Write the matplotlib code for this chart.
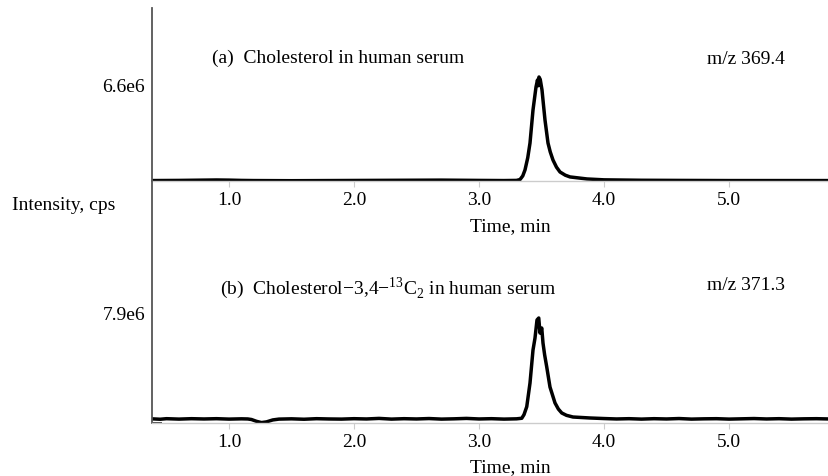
import numpy as np
import matplotlib
matplotlib.use("Agg")
import matplotlib.pyplot as plt
from matplotlib import transforms

plt.rcParams['font.family'] = ['Liberation Serif', 'DejaVu Serif']
plt.rcParams['mathtext.fontset'] = 'custom'
plt.rcParams['mathtext.rm'] = 'Liberation Serif'

# -- (a) cholesterol, m/z 369.4 (intensity in 1e6 cps)
t_a = [0.38, 0.6, 0.8, 0.9, 1.0, 1.1, 1.2, 1.5, 1.8, 2.1, 2.4, 2.7, 3.0, 3.2, 3.3,
       3.328, 3.35, 3.368, 3.39, 3.408, 3.432, 3.456, 3.468, 3.474, 3.48, 3.49, 3.504, 3.515,
       3.528, 3.552, 3.57, 3.592, 3.62, 3.648, 3.69, 3.728, 3.864, 4.0, 4.3, 4.6, 5.0, 5.4, 5.8]
i_a = [0.03, 0.04, 0.06, 0.07, 0.06, 0.04, 0.03, 0.02, 0.03, 0.04, 0.05, 0.06, 0.04, 0.03, 0.04,
       0.10, 0.35, 0.76, 1.60, 2.61, 4.88, 6.46, 6.95, 6.55, 7.15, 6.98, 6.26, 5.30,
       4.19, 2.61, 2.00, 1.44, 0.95, 0.62, 0.40, 0.28, 0.14, 0.08, 0.05, 0.04, 0.03, 0.03, 0.03]

# -- (b) cholesterol-3,4-13C2, m/z 371.3
t_b = [0.38, 0.45, 0.5, 0.6, 0.7, 0.8, 0.9, 1.0, 1.1, 1.15, 1.18, 1.22, 1.26, 1.30, 1.35,
       1.4, 1.5, 1.6, 1.7, 1.8, 1.9, 2.0, 2.1, 2.2, 2.3, 2.4, 2.5, 2.6, 2.7, 2.8, 2.9,
       3.0, 3.1, 3.2, 3.3, 3.342, 3.36, 3.382, 3.408, 3.432, 3.448, 3.464, 3.478, 3.488,
       3.502, 3.512, 3.525, 3.542, 3.568, 3.608, 3.635, 3.662, 3.70, 3.752, 3.888, 4.0, 4.1,
       4.2, 4.3, 4.4, 4.5, 4.6, 4.7, 4.8, 4.9, 5.0, 5.1, 5.2, 5.3, 5.4, 5.5, 5.6, 5.7, 5.8]
i_b = [0.30, 0.27, 0.31, 0.28, 0.31, 0.29, 0.31, 0.28, 0.30, 0.29, 0.25, 0.12, 0.03, 0.08, 0.22,
       0.28, 0.30, 0.27, 0.31, 0.29, 0.28, 0.31, 0.29, 0.33, 0.28, 0.31, 0.29, 0.32, 0.28, 0.30, 0.33,
       0.29, 0.31, 0.28, 0.30, 0.34, 0.60, 1.17, 2.87, 5.24, 6.10, 7.40, 7.54, 6.46,
       6.82, 5.74, 4.90, 4.02, 2.58, 1.44, 1.00, 0.72, 0.55, 0.43, 0.36, 0.32, 0.29,
       0.31, 0.28, 0.31, 0.29, 0.32, 0.28, 0.30, 0.31, 0.28, 0.30, 0.32, 0.29, 0.31, 0.28, 0.30, 0.31, 0.29]

xticks = [1.0, 2.0, 3.0, 4.0, 5.0]
ytick_a = 6.6
ytick_b = 7.9
title_a = "(a)  Cholesterol in human serum"
title_b = "(b)  Cholesterol\u22123,4\u2212$^{13}$C$_2$ in human serum"
mz_a = "m/z 369.4"
mz_b = "m/z 371.3"

FS = 14
W, H = 829, 476
left = 152 / W


def panel(ax, t, y, ytick, ymax, title, tx, ty, mz, mzy, label_y):
    ax.patch.set_visible(False)
    ax.plot(np.array(t), np.array(y) * 1e6, color='black', lw=2.5, solid_joinstyle='round')
    ax.set_xlim(0.384, 5.8)
    ax.set_ylim(0, ymax * 1e6)
    ax.set_xticks(xticks)
    ax.set_xticklabels([f"{v:.1f}" for v in xticks], fontsize=FS)
    ax.set_yticks([ytick * 1e6])
    ax.set_yticklabels([f"{ytick:.1f}e6"], fontsize=FS)
    ax.tick_params(axis='x', length=4, color='#cccccc', pad=4)
    ax.tick_params(axis='y', length=0, pad=5)
    for s in ['top', 'right']:
        ax.spines[s].set_visible(False)
    ax.spines['left'].set_color('#555555')
    ax.spines['left'].set_linewidth(1.3)
    ax.spines['bottom'].set_color('#cccccc')
    ax.spines['bottom'].set_linewidth(1.0)
    ax.set_xlabel("Time, min", fontsize=FS)
    ax.xaxis.set_label_coords(0.529, label_y)
    tr = transforms.blended_transform_factory(ax.transData, ax.transAxes)
    ax.text(tx, ty, title, transform=tr, fontsize=FS, va='center')
    ax.text(4.824, mzy, mz, transform=tr, fontsize=FS, va='center')


fig = plt.figure(figsize=(W / 100, H / 100), dpi=100)
ax1 = fig.add_axes([left, 1 - 181 / H, 1 - left, (181 - 8) / H])
ax2 = fig.add_axes([left, 1 - 423 / H, 1 - left, (423 - 181) / H])

panel(ax1, t_a, i_a, ytick_a, 173 * 6.6 / 96, title_a, 0.864, 0.711, mz_a, 0.705, -0.215)
panel(ax2, t_b, i_b, ytick_b, 242 * 7.9 / 110, title_b, 0.928, 0.558, mz_b, 0.570, -0.150)

# little mark at the foot of the left axis
ax2.set_yticks([0], minor=True)
ax2.tick_params(axis='y', which='minor', direction='in', length=7, color='#333333', width=1.3)

fig.text(12 / W, 1 - 205 / H, "Intensity, cps", fontsize=FS, va='center', ha='left')

fig.savefig("out.png", dpi=100)
